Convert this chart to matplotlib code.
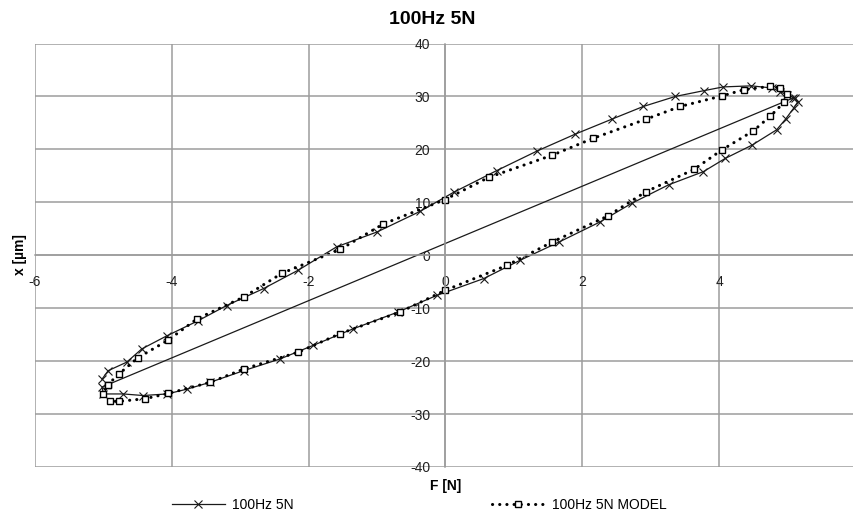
import matplotlib
matplotlib.use("Agg")
import matplotlib.pyplot as plt
from matplotlib import font_manager as fm

# ---------------- data ----------------
meas_x = [-5.02, -4.93, -4.66, -4.44, -4.07, -3.62, -3.20, -2.66, -2.15, -1.59, -1.00, -0.37,
          0.12, 0.75, 1.34, 1.90, 2.43, 2.89, 3.36, 3.78, 4.06, 4.47, 4.77, 4.89, 4.99, 5.11,
          5.15, 5.09, 4.97, 4.84, 4.48, 4.09, 3.77, 3.26, 2.72, 2.26, 1.66, 1.09, 0.56, -0.13,
          -0.69, -1.35, -1.93, -2.42, -2.95, -3.44, -3.78, -4.07, -4.42, -4.71, -5.00, -5.02,
          5.08]
meas_y = [-23.4, -21.8, -20.2, -17.7, -15.2, -12.4, -9.5, -6.3, -2.8, 1.6, 4.4, 8.3,
          11.9, 16.0, 19.7, 22.9, 25.7, 28.1, 30.0, 31.1, 31.8, 32.0, 31.6, 30.9, 30.3, 29.7,
          29.0, 27.8, 25.7, 23.7, 20.8, 18.3, 15.8, 13.3, 9.8, 6.3, 2.5, -0.95, -4.4, -7.6,
          -10.7, -13.9, -17.0, -19.6, -21.8, -24.0, -25.3, -26.2, -26.5, -26.2, -26.2, -24.9,
          29.7]

model_x = [-4.94, -4.77, -4.50, -4.05, -3.63, -2.95, -2.39, -1.54, -0.91, -0.01, 0.63, 1.56,
           2.16, 2.93, 3.43, 4.04, 4.37, 4.75, 4.89, 4.99,
           4.95, 4.75, 4.50, 4.04, 3.63, 2.93, 2.37, 1.56, 0.90, 0.00, -0.66, -1.54, -2.15,
           -2.95, -3.44, -4.05, -4.39, -4.77, -4.90, -5.01, -4.94]
model_y = [-24.5, -22.4, -19.4, -16.0, -12.0, -7.9, -3.4, 1.1, 5.9, 10.5, 14.7, 18.9,
           22.1, 25.7, 28.1, 30.1, 31.3, 31.9, 31.6, 30.5,
           28.9, 26.3, 23.5, 19.9, 16.2, 12.0, 7.4, 2.5, -1.9, -6.6, -10.7, -14.8, -18.3,
           -21.5, -24.0, -26.1, -27.1, -27.6, -27.6, -26.3, -24.5]

x_ticks = [-6, -4, -2, 0, 2, 4, 6]
y_ticks = [-40, -30, -20, -10, 0, 10, 20, 30, 40]

title = "100Hz 5N"
x_label = "F [N]"
y_label = "x [µm]"
meas_name = "100Hz 5N"
model_name = "100Hz 5N MODEL"

# ---------------- style ----------------
names = {f.name for f in fm.fontManager.ttflist}
base = "Liberation Sans Narrow" if "Liberation Sans Narrow" in names else "Liberation Sans"
plt.rcParams['font.family'] = [base, 'DejaVu Sans']
plt.rcParams['axes.unicode_minus'] = False

W, H = 854, 524
fig = plt.figure(figsize=(W / 100, H / 100), dpi=100)
ax = fig.add_axes([35 / W, 1 - 467 / H, 821 / W, (467 - 43.5) / H])

grid_c = '#9c9c9c'
ax.set_xlim(-6, 6)
ax.set_ylim(-40, 40)
ax.set_xticks(x_ticks)
ax.set_yticks(y_ticks)
ax.set_xticklabels([str(v) for v in x_ticks])
ax.set_yticklabels([str(v) for v in y_ticks])
ax.grid(True, color=grid_c, linewidth=1.1)
ax.set_axisbelow(True)
for s in ['top', 'right']:
    ax.spines[s].set_visible(False)
ax.spines['left'].set_position(('data', 0))
ax.spines['bottom'].set_position(('data', 0))
for s in ['left', 'bottom']:
    ax.spines[s].set_color(grid_c)
    ax.spines[s].set_linewidth(1.1)
ax.tick_params(axis='both', length=0, labelsize=10, colors='#202020')
ax.tick_params(axis='y', pad=11)
ax.tick_params(axis='x', pad=14)
for lab in ax.get_xticklabels() + ax.get_yticklabels():
    lab.set_clip_on(False)

l1, = ax.plot(meas_x, meas_y, color='#1a1a1a', linewidth=0.9, marker='x',
              markersize=6, markeredgewidth=0.8, clip_on=False)
l2, = ax.plot(model_x, model_y, color='black', linewidth=2.2,
              linestyle=(0, (0.05, 2.3)), dash_capstyle='round',
              marker='s', markersize=4.2, markerfacecolor='white',
              markeredgecolor='black', markeredgewidth=1.0, clip_on=False)

fig.text(432 / W, 1 - 20 / H, title, ha='center', va='center', fontsize=14, fontweight='bold')
fig.text(446 / W, 1 - 486 / H, x_label, ha='center', va='center', fontsize=10, fontweight='bold')
fig.text(20 / W, 1 - 255 / H, y_label, ha='center', va='center', fontsize=10,
         fontweight='bold', rotation=90)

leg1 = fig.legend([l1], [meas_name], loc='center left', bbox_to_anchor=(172 / W, 1 - 505 / H),
                  frameon=False, borderpad=0, borderaxespad=0, handlelength=3.8,
                  handletextpad=0.5, fontsize=10)
leg2 = fig.legend([l2], [model_name], loc='center left', bbox_to_anchor=(492 / W, 1 - 505 / H),
                  frameon=False, borderpad=0, borderaxespad=0, handlelength=3.8,
                  handletextpad=0.5, fontsize=10)

fig.savefig('out.png', dpi=100)
